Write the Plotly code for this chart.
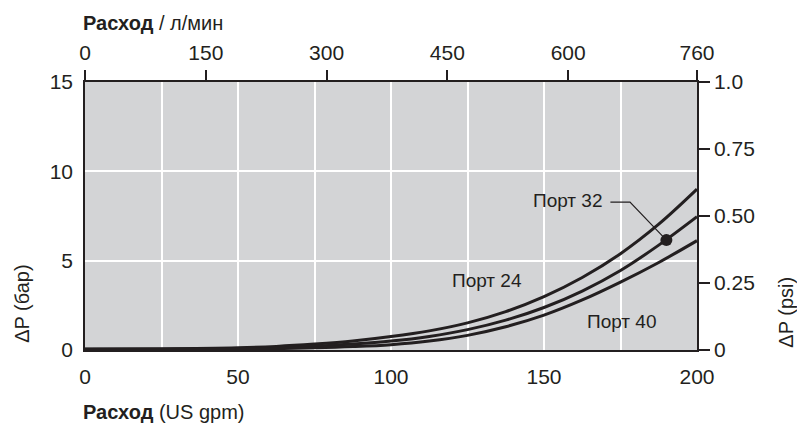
import plotly.graph_objects as go

# ---- data ----
flow_gpm = [0, 25, 50, 62.5, 75, 87.5, 100, 112.5, 125, 137.5, 150, 162.5, 175, 187.5, 200]
port24_bar = [0.05, 0.06, 0.12, 0.2, 0.33, 0.5, 0.75, 1.07, 1.52, 2.15, 2.99, 4.06, 5.39, 7.04, 9.0]
port32_bar = [0.04, 0.05, 0.08, 0.13, 0.21, 0.33, 0.5, 0.76, 1.14, 1.67, 2.38, 3.3, 4.45, 5.87, 7.46]
port40_bar = [0.03, 0.04, 0.05, 0.08, 0.12, 0.19, 0.3, 0.5, 0.82, 1.3, 1.95, 2.8, 3.8, 4.9, 6.12]

marker_gpm = [190]
marker_bar = [6.15]

bottom_ticks = [0, 50, 100, 150, 200]
top_ticks = [0, 150, 300, 450, 600, 760]
left_ticks = [0, 5, 10, 15]
right_ticks = [0, 0.25, 0.5, 0.75, 1.0]
right_ticktext = ["0", "0.25", "0.50", "0.75", "1.0"]

labels = ["Порт 24", "Порт 32", "Порт 40"]
label_x = [131.4, 169.9, 175.5]
label_y = [3.88, 8.37, 1.58]
leader_x = [171.7, 178.1]
leader_y = [8.28, 8.28]

INK = "#231f20"
FONT = "Liberation Sans, Arial, Helvetica, sans-serif"
FS = 21

fig = go.Figure()

for ys in (port24_bar, port32_bar, port40_bar):
    fig.add_trace(go.Scatter(x=flow_gpm, y=ys, mode="lines",
                             line=dict(color=INK, width=3, shape="spline", smoothing=1.0),
                             hoverinfo="skip"))

# leader line to marker
fig.add_trace(go.Scatter(x=leader_x + marker_gpm, y=leader_y + marker_bar, mode="lines",
                         line=dict(color=INK, width=1.2), hoverinfo="skip"))
fig.add_trace(go.Scatter(x=marker_gpm, y=marker_bar, mode="markers",
                         marker=dict(color=INK, size=12), hoverinfo="skip"))

# invisible trace for secondary axes
fig.add_trace(go.Scatter(x=[0, 760], y=[0, 1], xaxis="x2", yaxis="y2", mode="markers",
                         marker=dict(opacity=0), hoverinfo="skip"))

fig.update_layout(
    width=797, height=425,
    margin=dict(l=85, r=100, t=82, b=75),
    plot_bgcolor="#d3d4d6", paper_bgcolor="white",
    showlegend=False,
    font=dict(family=FONT, size=FS, color=INK),
    xaxis=dict(range=[0, 200], tickvals=bottom_ticks, ticks="", showline=True,
               linecolor=INK, linewidth=1.5, zeroline=False,
               showgrid=True, gridcolor="white", gridwidth=1.5,
               minor=dict(dtick=25, tick0=0, showgrid=True, gridcolor="white", gridwidth=1.5),
               tickfont=dict(size=FS, color=INK), ticklabelstandoff=7),
    xaxis2=dict(range=[0, 760], overlaying="x", side="top", tickvals=top_ticks,
                ticks="outside", ticklen=10, tickwidth=1.5, tickcolor=INK,
                showline=True, linecolor=INK, linewidth=1.5, showgrid=False, zeroline=False,
                tickfont=dict(size=FS, color=INK), ticklabelstandoff=2),
    yaxis=dict(range=[0, 15], tickvals=left_ticks, ticks="", showline=True,
               linecolor=INK, linewidth=1.5, zeroline=False,
               showgrid=True, gridcolor="white", gridwidth=1.5,
               tickfont=dict(size=FS, color=INK), ticklabelstandoff=6),
    yaxis2=dict(range=[0, 1], overlaying="y", side="right", tickvals=right_ticks,
                ticktext=right_ticktext, ticks="outside", ticklen=11, tickwidth=1.5,
                tickcolor=INK, showline=True, linecolor=INK, linewidth=1.5,
                showgrid=False, zeroline=False, tickfont=dict(size=FS, color=INK)),
)

for t, x, y in zip(labels, label_x, label_y):
    fig.add_annotation(x=x, y=y, xref="x", yref="y", text=t, showarrow=False,
                       xanchor="right" if t == "Порт 32" else "center",
                       font=dict(size=19, color=INK))

fig.add_annotation(x=0, y=1.22, xref="paper", yref="paper", text="<b>Расход</b> / л/мин",
                   showarrow=False, xanchor="left", yanchor="middle", xshift=-4, font=dict(size=20))
fig.add_annotation(x=0, y=-0.231, xref="paper", yref="paper", text="<b>Расход</b> (US gpm)",
                   showarrow=False, xanchor="left", yanchor="middle", xshift=-4, font=dict(size=20))
fig.add_annotation(x=-0.103, y=0.019, xref="paper", yref="paper", text="ΔP (бар)",
                   textangle=-90, showarrow=False, xanchor="center", yanchor="bottom",
                   font=dict(size=20))
fig.add_annotation(x=1.144, y=0.0, xref="paper", yref="paper", text="ΔP (psi)",
                   textangle=-90, showarrow=False, xanchor="center", yanchor="bottom",
                   font=dict(size=20))

fig.write_html("out.html", config={"displayModeBar": False},
               post_script="document.body.style.margin='0';document.body.style.overflow='hidden';")
